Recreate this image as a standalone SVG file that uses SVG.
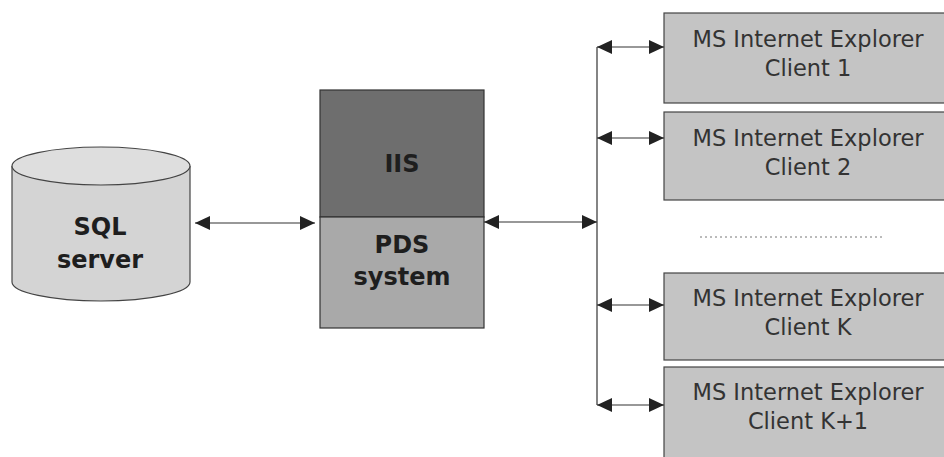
<svg xmlns="http://www.w3.org/2000/svg" width="944" height="457" viewBox="0 0 944 457">
<style>
.bold{font-family:"DejaVu Sans",Verdana,sans-serif;font-weight:bold;font-size:24px;fill:#1e1e1e;text-anchor:middle}
.cl{font-family:"DejaVu Sans",Tahoma,sans-serif;font-size:22.5px;fill:#333;text-anchor:middle}
.box{fill:#c4c4c4;stroke:#444;stroke-width:1.2}
.conn{stroke:#333;stroke-width:1.2;fill:none}
</style>
<defs>
<marker id="ah" viewBox="0 0 15 14" refX="15" refY="7" markerWidth="15" markerHeight="14" markerUnits="userSpaceOnUse" orient="auto-start-reverse">
<path d="M0,0 L15,7 L0,14 Z" fill="#222"/>
</marker>
</defs>
<rect width="944" height="457" fill="#fff"/>
<g id="sql">
<path d="M12,166 L12,282 A89,19 0 0 0 190,282 L190,166" fill="#d4d4d4" stroke="#444" stroke-width="1.2"/>
<ellipse cx="101" cy="166" rx="89" ry="19" fill="#dedede" stroke="#444" stroke-width="1.2"/>
<text class="bold" x="100" y="235">SQL</text>
<text class="bold" x="100" y="268">server</text>
</g>
<g id="iis">
<rect x="320" y="90" width="164" height="127" fill="#6e6e6e" stroke="#333" stroke-width="1.2"/>
<text class="bold" x="402" y="172">IIS</text>
</g>
<g id="pds">
<rect x="320" y="217" width="164" height="111" fill="#a9a9a9" stroke="#333" stroke-width="1.2"/>
<text class="bold" x="402" y="253">PDS</text>
<text class="bold" x="402" y="285">system</text>
</g>
<g id="client1">
<rect class="box" x="664" y="13" width="282" height="90"/>
<text class="cl" x="808" y="47">MS Internet Explorer</text>
<text class="cl" x="808" y="76">Client 1</text>
</g>
<g id="client2">
<rect class="box" x="664" y="112" width="282" height="88"/>
<text class="cl" x="808" y="146">MS Internet Explorer</text>
<text class="cl" x="808" y="175">Client 2</text>
</g>
<g id="clientK">
<rect class="box" x="664" y="273" width="282" height="87"/>
<text class="cl" x="808" y="306">MS Internet Explorer</text>
<text class="cl" x="808" y="335">Client K</text>
</g>
<g id="clientK1">
<rect class="box" x="664" y="367" width="282" height="100"/>
<text class="cl" x="808" y="400">MS Internet Explorer</text>
<text class="cl" x="808" y="429">Client K+1</text>
</g>
<g id="connectors">
<line class="conn" x1="195" y1="223" x2="315" y2="223" marker-start="url(#ah)" marker-end="url(#ah)"/>
<line class="conn" x1="484" y1="222" x2="597" y2="222" marker-start="url(#ah)" marker-end="url(#ah)"/>
<line class="conn" x1="597" y1="47" x2="597" y2="405"/>
<line class="conn" x1="597" y1="47" x2="664" y2="47" marker-start="url(#ah)" marker-end="url(#ah)"/>
<line class="conn" x1="597" y1="138" x2="664" y2="138" marker-start="url(#ah)" marker-end="url(#ah)"/>
<line class="conn" x1="597" y1="305" x2="664" y2="305" marker-start="url(#ah)" marker-end="url(#ah)"/>
<line class="conn" x1="597" y1="405" x2="664" y2="405" marker-start="url(#ah)" marker-end="url(#ah)"/>
<line x1="700" y1="237" x2="882" y2="237" stroke="#777" stroke-width="1" stroke-dasharray="2,3"/>
</g>
</svg>
